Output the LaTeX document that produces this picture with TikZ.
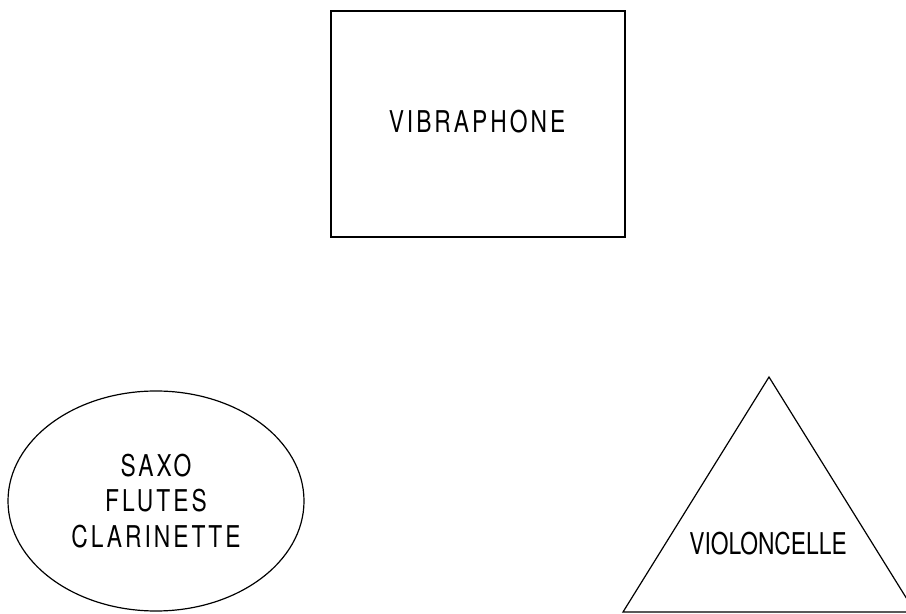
\documentclass[tikz,border=0pt]{standalone}
\usepackage{fontspec}
\setmainfont{TeX Gyre Heros}[FakeStretch=0.76]
\newfontfamily\spacedfont{TeX Gyre Heros}[FakeStretch=0.76, LetterSpace=10]
\usetikzlibrary{shapes.geometric, positioning}
\tikzset{instrshape/.style={draw, line width=0.6pt, inner sep=0pt}}
\tikzset{instrtext/.style={font=\fontsize{15}{17.75}\selectfont, align=center}}

\begin{document}
\begin{tikzpicture}[x=0.5pt, y=-0.5pt]
\useasboundingbox (0,0) rectangle (906,614);

\node[instrshape, rectangle, minimum width=147pt, minimum height=113pt] (vibra) at (478,124) {};
\node[instrtext] (vibratext) at (477,122) {\spacedfont VIBRAPHONE};

\node[instrshape, instrtext, ellipse, minimum width=148pt, minimum height=110pt] (vents) at (156,501) {\spacedfont SAXO\\\spacedfont FLUTES\\\spacedfont CLARINETTE};

\coordinate (apex) at (769,377);
\coordinate (baseL) at (623,612);
\coordinate (baseR) at (915,612);
\draw[instrshape] (apex) -- (baseL) -- (baseR) -- cycle;
\node[instrtext] (cello) at (768,543.5) {VIOLONCELLE};

\end{tikzpicture}
\end{document}
